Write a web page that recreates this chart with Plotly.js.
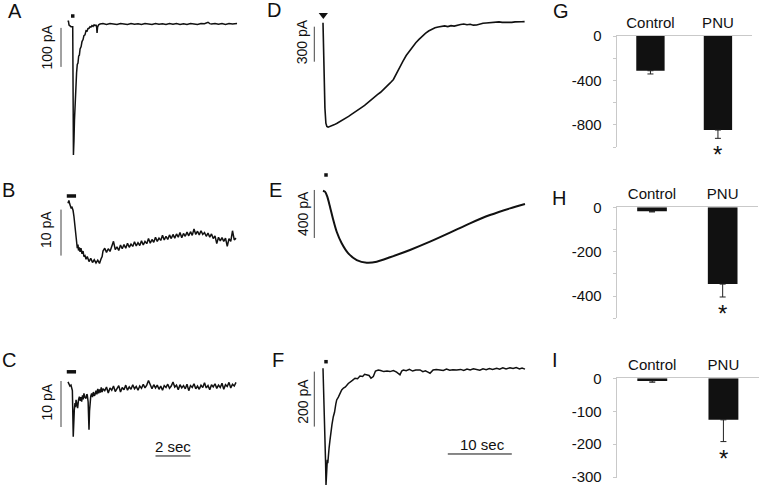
<!DOCTYPE html>
<html><head><meta charset="utf-8">
<script src="https://cdn.plot.ly/plotly-3.0.1.min.js"></script>
<style>html,body{margin:0;padding:0;background:#fff}#chart{width:761px;height:487px}</style>
</head><body><div id="chart"></div>
<script>
// ---------- DATA (time in s, current in pA) ----------
const tA = [0,0.02,0.06,0.17,0.27,0.31,0.34,0.37,0.40,0.43,0.46,0.49,0.53,0.57,0.61,0.65,0.69,0.75,0.8,0.86,0.91,0.97,1.03,1.09,1.14,1.2,1.26,1.31,1.37,1.43,1.49,1.54,1.6,1.63,1.66,1.69,1.75,1.83,
  2.0,2.2,2.4,2.6,2.8,3.0,3.2,3.4,3.6,3.8,4.0,4.2,4.4,4.6,4.8,5.0,5.2,5.4,5.6,5.8,6.0,6.2,6.4,6.6,6.8,7.0,7.2,7.4,7.6,7.8,8.0,8.1,8.2,8.4,8.6,8.8,9.0,9.2,9.4,9.66];
const iA = [6,8.5,-2.6,-6.9,-6.9,-336,-300,-246,-200,-172,-140,-125,-104,-100,-82,-80,-64,-58,-45,-40,-30,-28,-17,-18,-12,-11,-7,-8,-4,-6,-2,-4,-3,-5,-23,-8,-2,0,
  1,-1,1.5,0,-1.5,1,0.5,-1,1.5,-0.5,0.5,-1.5,1,0,-1,1.5,-0.5,0.5,-1.5,1,-0.5,1,-1,0.5,-1.5,1,0,-1,1.5,0.5,4.5,1,0,1.5,-0.5,1,-1,1,0,1];

const tB = [0,0.05,0.1,0.17,0.23,0.29,0.34,0.4,0.46,0.5,0.53,0.57,0.6,0.65,0.69,0.74,0.8,0.86,0.91,0.97,1.03,1.1,1.2,1.3,1.4,1.5,1.6,1.7,1.8,1.9,1.95,2.0,2.05,
  2.1,2.2,2.3,2.4,2.5,2.6,2.7,2.8,2.9,3.0,3.1,3.2,3.3,3.4,3.5,3.6,3.7,3.8,3.9,4.0,4.1,4.2,4.3,4.4,4.5,4.6,4.7,4.8,4.9,5.0,5.1,5.2,5.3,5.4,5.5,5.6,5.7,5.8,5.9,6.0,
  6.1,6.2,6.3,6.4,6.5,6.6,6.7,6.8,6.9,7.0,7.1,7.2,7.3,7.4,7.5,7.6,7.7,7.8,7.9,8.0,8.1,8.2,8.3,8.4,8.5,8.6,8.7,8.8,8.9,9.0,9.1,9.2,9.3,9.4,9.5,9.6];
const iB = [0.4,1.0,0.2,-0.6,-0.5,-1.2,-2.5,-4.8,-6.9,-8.5,-9.4,-8.6,-9.9,-9.2,-10.2,-9.4,-10.6,-10.0,-11.2,-11.0,-11.8,-11.2,-12.3,-11.6,-12.5,-11.9,-12.6,-12.0,-12.7,-11.6,-11.2,-10.0,-9.6,
  -9.4,-10.3,-9.5,-10.1,-9.0,-7.9,-9.7,-9.1,-9.9,-8.7,-9.5,-8.6,-9.4,-8.3,-9.2,-8.5,-9.0,-8.0,-8.9,-8.2,-8.8,-7.8,-8.7,-7.9,-8.4,-7.3,-8.3,-7.5,-8.1,-7.0,-7.9,-7.2,-7.7,-6.6,-7.6,-6.8,-7.5,-6.5,-7.3,-6.4,
  -7.2,-6.3,-7.0,-6.0,-7.1,-6.2,-6.8,-5.9,-6.7,-5.8,-6.6,-5.2,-6.4,-5.7,-6.5,-5.6,-6.4,-6.0,-6.8,-6.1,-7.0,-6.3,-7.3,-6.7,-8.4,-7.0,-7.8,-7.1,-7.9,-7.2,-9.0,-7.3,-7.9,-5.6,-7.6,-7.2];

const tC = [0,0.05,0.11,0.17,0.21,0.25,0.3,0.33,0.36,0.4,0.43,0.46,0.5,0.55,0.6,0.65,0.7,0.74,0.78,0.83,0.87,0.91,0.96,1.03,1.07,1.1,1.15,1.2,1.23,1.26,1.3,1.35,1.4,1.45,1.5,1.54,1.6,1.65,1.7,1.75,1.8,1.85,1.9,1.95,2.0,
  2.1,2.2,2.3,2.4,2.5,2.6,2.7,2.8,2.9,3.0,3.1,3.2,3.3,3.4,3.5,3.6,3.7,3.8,3.9,4.0,4.1,4.2,4.3,4.4,4.5,4.6,4.7,4.8,4.9,5.0,5.1,5.2,5.3,5.4,5.5,5.6,5.7,5.8,5.9,6.0,
  6.1,6.2,6.3,6.4,6.5,6.6,6.7,6.8,6.9,7.0,7.1,7.2,7.3,7.4,7.5,7.6,7.7,7.8,7.9,8.0,8.1,8.2,8.3,8.4,8.5,8.6,8.7,8.8,8.9,9.0,9.1,9.2,9.3,9.4,9.5,9.6];
const iC = [0.3,0,-0.6,-0.4,-1.1,-1.6,-11.6,-7.5,-5.8,-4.3,-5.2,-3.6,-4.6,-5.4,-3.6,-2.9,-3.8,-3.0,-4.0,-2.6,-3.5,-2.2,-3.0,-3.3,-2.4,-2.5,-4.0,-10.1,-6.0,-3.6,-2.8,-2.2,-3.0,-1.9,-2.7,-2.5,-1.6,-2.4,-1.2,-2.2,-1.3,-2.0,-0.9,-1.9,-1.2,
  -1.6,-0.8,-2.1,-1.0,-1.5,-0.6,-1.8,-1.2,-0.5,-1.9,-0.9,-1.4,-0.4,-1.5,-0.8,-1.3,-0.3,-1.2,-0.7,-1.5,-0.6,-1.1,-0.2,-1.0,-0.4,0.6,-0.5,-1.2,-0.3,-1.0,-0.4,-1.3,-0.6,-1.5,-0.5,-0.9,-0.2,-1.1,-0.6,0.3,
  -0.8,-0.4,-1.4,-0.3,-1.0,-0.5,-1.2,-0.2,-1.6,-0.5,-0.9,-0.1,-1.2,-0.6,-1.3,-0.4,-0.9,0.1,-1.0,-0.5,-1.4,-0.3,-0.8,-0.1,-1.1,-0.4,-0.9,0.0,-1.3,-0.3,-0.7,0.2,-1.0,-0.2,-0.6,0.2];

const tD = [0,0.1,0.2,0.3,0.45,0.6,0.8,1.0,1.4,1.8,2.2,2.6,3.0,3.5,4.0,4.5,5.0,5.5,6.0,6.5,7.0,7.5,8.0,8.5,9.0,9.5,10.0,10.5,11.0,11.5,12.0,12.5,13.0,13.5,14.0,14.5,15.0,15.5,16.0,16.5,17.0,17.5,18.0,18.5,19.0,19.5,20.0,20.5,21.0,21.5,22.0,22.5,23.0,23.5,24.0,24.5,25.0,25.5,26.0,26.5,27.0,27.5,28.0,28.5,29.0,29.5,30.0,30.5,31.0,31.5];
const iD = [10,-300,-560,-720,-850,-878,-884,-880,-874,-862,-850,-838,-826,-808,-792,-773,-756,-737,-716,-697,-672,-648,-624,-605,-585,-560,-530,-505,-475,-420,-372,-318,-270,-230,-196,-160,-132,-104,-80,-60,-44,-32,-25,-22,-16,-22,-14,-18,-8,-4,0,-6,-2,-10,-8,2,6,8,12,16,20,18,14,12,10,14,18,16,19,20];

const tE = [0,0.31,0.67,1.09,1.61,2.14,2.92,3.95,5.27,6.83,8.39,10.47,13.59,16.72,19.84,22.97,26.09,29.22,31.56];
const iE = [0,-8,-50,-133,-244,-342,-438,-522,-578,-600,-592,-555,-494,-425,-350,-272,-203,-147,-111];

const tF = [0,0.1,0.2,0.3,0.4,0.47,0.55,0.67,0.75,0.83,0.95,1.09,1.25,1.4,1.61,1.8,2.0,2.14,2.4,2.7,2.92,3.2,3.5,3.95,4.3,4.6,5.0,5.4,5.78,6.2,6.5,6.83,7.2,7.5,7.86,8.2,8.64,9.0,9.5,10.0,10.47,11.0,11.5,12.03,12.3,12.55,13.0,13.5,14.0,14.5,15.16,15.6,16.0,16.4,16.72,17.2,17.7,18.28,18.8,19.3,19.8,20.3,20.89,21.5,22.0,22.5,23.0,23.5,24.02,24.5,25.0,25.5,26.0,26.5,27.14,27.6,28.1,28.6,29.22,29.7,30.2,30.7,31.1,31.56];
const iF = [0,-70,-140,-240,-340,-424,-380,-333,-345,-309,-290,-261,-240,-205,-176,-160,-130,-115,-105,-88,-79,-72,-68,-55,-50,-44,-36,-38,-28,-30,-22,-24,-26,-36,-30,-10,-6,-8,-12,-10,-12,-8,-14,-24,-10,-6,-9,-4,-10,-6,-6,-12,-9,-14,-18,-6,-4,-6,-8,-3,-7,-5,-6,-4,-8,-3,-6,-2,-4,-7,-2,-5,-1,-4,0,-3,2,-2,2,-1,3,-2,1,-3];

// stimulus markers (time s, current pA)
const stimA = {t:[0.27], i:[20.5]};
const stimB = {t:[-0.07,0.46], i:[1.96,1.96]};
const stimC = {t:[-0.07,0.46], i:[2.5,2.5]};
const stimD = {t:[0.05], i:[77]};
const stimE = {t:[0.47], i:[131]};
const stimF = {t:[0.47], i:[24]};

// bar charts
const groups = ['Control','PNU'];
const gMean = [-313,-847], gErr = [29,75];
const hMean = [-18,-346],  hErr = [3,58];
const iMean = [-8,-126],   iErr = [4,66];
const gTickVals = [0,-200,-400,-600,-800,-1000], gTickText = ['0','','-400','','-800',''];
const hTickVals = [0,-100,-200,-300,-400,-500],  hTickText = ['0','','-200','','-400',''];
const iTickVals = [0,-100,-200,-300],            iTickText = ['0','-100','-200','-300'];

// ---------- LAYOUT ----------
const W=761,H=487;
const FONT='"Liberation Sans", Arial, Helvetica, sans-serif';
function xa(px0,px1,ox,sx,a){return {domain:[px0/W,px1/W],range:[(px0-ox)/sx,(px1-ox)/sx],visible:false,fixedrange:true,anchor:a};}
function ya(py0,py1,oy,sy,a){return {domain:[1-py1/H,1-py0/H],range:[-(py1-oy)/sy,-(py0-oy)/sy],visible:false,fixedrange:true,anchor:a};}

const layout = {
  width:W,height:H,margin:{l:0,r:0,t:0,b:0},showlegend:false,
  paper_bgcolor:'#fff',plot_bgcolor:'rgba(0,0,0,0)',
  font:{family:FONT,size:14,color:'#111'},
  xaxis: xa(30,245,68,17.5,'y'),   yaxis: ya(5,165,24,0.39,'x'),
  xaxis2:xa(30,245,68,17.5,'y2'),  yaxis2:ya(172,302,205,4.6,'x2'),
  xaxis3:xa(30,245,68,17.5,'y3'),  yaxis3:ya(305,475,383.3,4.6,'x3'),
  xaxis4:xa(285,540,323,6.4,'y4'), yaxis4:ya(5,165,24,0.1167,'x4'),
  xaxis5:xa(285,540,323,6.4,'y5'), yaxis5:ya(170,300,190.7,0.12,'x5'),
  xaxis6:xa(285,540,323,6.4,'y6'), yaxis6:ya(303,487,368.3,0.275,'x6'),
  shapes:[], annotations:[]
};
function barAxes(n, x0,x1,y0,y1, rng, tv, tt){
  layout['xaxis'+n] = {domain:[x0/W,x1/W],type:'category',range:[-0.5,1.5],side:'top',anchor:'y'+n,
    showline:true,linecolor:'#c9c9c9',linewidth:1,ticks:'',showgrid:false,zeroline:false,fixedrange:true,
    tickfont:{family:FONT,size:15,color:'#111'},ticklabelstandoff:1};
  layout['yaxis'+n] = {domain:[1-y1/H,1-y0/H],range:rng,anchor:'x'+n,tickmode:'array',tickvals:tv,ticktext:tt,
    showline:true,linecolor:'#c9c9c9',linewidth:1,ticks:'outside',ticklen:3,tickcolor:'#c9c9c9',ticklabeloverflow:'allow',
    showgrid:false,zeroline:false,fixedrange:true,tickfont:{family:FONT,size:15,color:'#111'},ticklabelstandoff:8};
}
barAxes(7,616.7,751.7,36,147,[-1000,0],gTickVals,gTickText);
barAxes(8,616.7,758,207.3,318.3,[-500,0],hTickVals,hTickText);
barAxes(9,616.7,759,378.3,477.5,[-301,0],iTickVals,iTickText);

// ---------- TRACES ----------
const data = [];
function line(t,i,n,w,shape){data.push({x:t,y:i,xaxis:'x'+(n===1?'':n),yaxis:'y'+(n===1?'':n),type:'scatter',mode:'lines',
  line:{color:'#111',width:w,shape:shape||'linear',smoothing:0.6},hoverinfo:'skip',cliponaxis:false});}
line(tA,iA,1,1.5); line(tB,iB,2,1.5); line(tC,iC,3,1.5);
line(tD,iD,4,1.6); line(tE,iE,5,2,'spline'); line(tF,iF,6,1.5);
function mark(s,n,sym,size){data.push({x:s.t,y:s.i,xaxis:'x'+(n===1?'':n),yaxis:'y'+(n===1?'':n),type:'scatter',mode:'markers',
  marker:{symbol:sym,size:size,color:'#111',line:{width:0}},hoverinfo:'skip',cliponaxis:false});}
function stimBar(s,n){data.push({x:s.t,y:s.i,xaxis:'x'+n,yaxis:'y'+n,type:'scatter',mode:'lines',line:{color:'#111',width:3.5},hoverinfo:'skip',cliponaxis:false});}
mark(stimA,1,'square',3.5); stimBar(stimB,2); stimBar(stimC,3);
mark(stimD,4,'triangle-down',8); mark(stimE,5,'square',3.5); mark(stimF,6,'square',3.5);

function bars(n,m,e){data.push({type:'bar',x:groups,y:m,xaxis:'x'+n,yaxis:'y'+n,width:0.42,
  marker:{color:'#111',line:{width:0}},
  error_y:{type:'data',symmetric:false,array:[0,0],arrayminus:e,color:'#222',thickness:1,width:3},hoverinfo:'skip'});
  layout.annotations.push({xref:'x'+n,yref:'y'+n,x:groups[1],y:m[1]-e[1],text:'*',showarrow:false,
    yanchor:'top',yshift:-1,font:{family:FONT,size:24,color:'#111'}});}
bars(7,gMean,gErr); bars(8,hMean,hErr); bars(9,iMean,iErr);

// ---------- SCALE BARS (in data units) ----------
function vbar(n,t,i0,len){layout.shapes.push({type:'line',xref:'x'+(n===1?'':n),yref:'y'+(n===1?'':n),x0:t,x1:t,y0:i0,y1:i0-len,line:{color:'#444',width:1}});}
vbar(1,-0.4,-10,100); vbar(2,-0.4,-1,10); vbar(3,-0.4,0.5,10);
vbar(4,-1.36,-23,300); vbar(5,-1.36,6,400); vbar(6,-1.36,-12,200);
function hbar(n,t0,len,i){layout.shapes.push({type:'line',xref:'x'+n,yref:'y'+n,x0:t0,x1:t0+len,y0:i,y1:i,line:{color:'#111',width:1}});}
hbar(3,5,2,-15.8); hbar(6,19.5,10,-311.6);

function txt(x,y,s,size,angle){layout.annotations.push({xref:'paper',yref:'paper',x:x/W,y:1-y/H,text:s,showarrow:false,
  xanchor:'center',yanchor:'middle',textangle:angle||0,font:{family:FONT,size:size,color:'#111'}});}
// scale labels
txt(46.5,47,'100 pA',14,-90); txt(46,230,'10 pA',14,-90); txt(46,402.5,'10 pA',14,-90);
txt(301.5,41.7,'300 pA',14,-90); txt(303,214,'400 pA',14,-90); txt(303,401.7,'200 pA',14,-90);
txt(173,446,'2 sec',15); txt(482,444,'10 sec',15);
// panel letters
const letters=[['A',14.5,11],['B',8,190],['C',8.5,360],['D',274,10],['E',275,190],['F',278,360],['G',561,11],['H',559,198],['I',554.5,360]];
letters.forEach(l=>txt(l[1],l[2],l[0],20));

Plotly.newPlot('chart',data,layout,{staticPlot:true,displayModeBar:false});
</script></body></html>
